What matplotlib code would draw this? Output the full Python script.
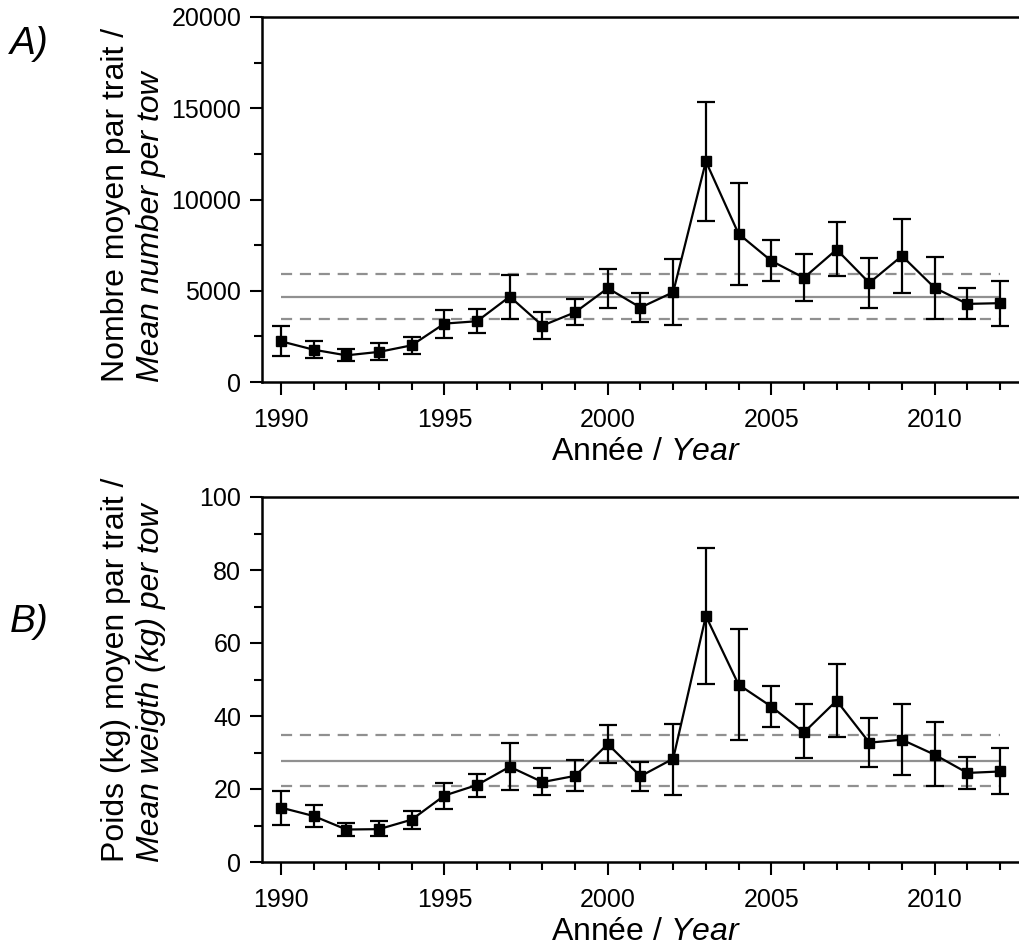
import matplotlib
matplotlib.use("Agg")
import matplotlib.pyplot as plt

years = list(range(1990, 2013))

# A) mean number per tow with upper / lower error limits
num_mean = [2230, 1770, 1460, 1650, 2010, 3200, 3330, 4680, 3090, 3820, 5140, 4080,
            4920, 12090, 8120, 6640, 5710, 7260, 5430, 6910, 5160, 4280, 4320]
num_hi = [3050, 2270, 1790, 2120, 2490, 3970, 3990, 5870, 3820, 4570, 6180, 4880,
          6750, 15330, 10920, 7770, 6990, 8780, 6800, 8930, 6840, 5140, 5540]
num_lo = [1450, 1340, 1150, 1190, 1540, 2410, 2710, 3440, 2380, 3110, 4080, 3270,
          3110, 8820, 5300, 5520, 4430, 5800, 4080, 4850, 3440, 3440, 3050]
num_ref = [4660, 5940, 3440]  # long-term mean, upper, lower

# B) mean weight (kg) per tow
wt_mean = [14.9, 12.6, 8.9, 9.0, 11.6, 18.2, 21.1, 26.1, 21.9, 23.6, 32.3, 23.5,
           28.3, 67.4, 48.6, 42.6, 35.5, 44.2, 32.7, 33.5, 29.4, 24.4, 24.8]
wt_hi = [19.5, 15.6, 10.8, 11.1, 14.1, 21.7, 24.2, 32.6, 25.7, 27.9, 37.4, 27.5,
         37.9, 86.1, 63.7, 48.2, 43.4, 54.2, 39.5, 43.2, 38.4, 28.8, 31.2]
wt_lo = [10.2, 9.5, 7.2, 7.0, 9.0, 14.4, 17.8, 19.8, 18.4, 19.5, 27.2, 19.5,
         18.4, 48.7, 33.5, 37.1, 28.5, 34.2, 26.0, 23.7, 20.9, 20.1, 18.6]
wt_ref = [27.7, 34.9, 20.7]

sans = ["Liberation Sans", "DejaVu Sans"]
plt.rcParams["font.family"] = sans
plt.rcParams["mathtext.fontset"] = "custom"
plt.rcParams["mathtext.it"] = "Liberation Sans:italic"
plt.rcParams["mathtext.rm"] = "Liberation Sans"

fig = plt.figure(figsize=(10.19, 9.48), dpi=100)
W, H = 1019, 948
axA = fig.add_axes([262 / W, 1 - 382 / H, 757 / W, 365 / H])
axB = fig.add_axes([262 / W, 1 - 862 / H, 757 / W, 365 / H])


def panel(ax, mean, hi, lo, ref, ymax, ymaj, ymin, line1, line2, letter, ly):
    err = [[m - l for m, l in zip(mean, lo)], [h - m for m, h in zip(mean, hi)]]
    ax.hlines(ref[0], years[0], years[-1], color="#909090", lw=1.6, zorder=1)
    ax.hlines(ref[1:], years[0], years[-1], color="#909090", lw=1.6,
              linestyles=(0, (5, 3.5)), zorder=1)
    ax.errorbar(years, mean, yerr=err, color="black", lw=1.6, elinewidth=1.6,
                capsize=6.5, capthick=1.6, marker="s", ms=6.5, zorder=3)
    ax.set_xlim(1989.42, 2012.58)
    ax.set_ylim(0, ymax)
    ax.set_xticks(range(1990, 2011, 5))
    ax.set_xticks(years, minor=True)
    ax.set_yticks(range(0, ymax + 1, ymaj))
    ax.set_yticks(range(0, ymax + 1, ymin), minor=True)
    ax.spines["right"].set_visible(False)
    for s in ("left", "bottom", "top"):
        ax.spines[s].set_linewidth(1.8)
    ax.tick_params(axis="x", which="major", length=9, width=1.5, pad=10,
                   labelsize=18)
    ax.tick_params(axis="x", which="minor", length=5.5, width=1.5)
    ax.tick_params(axis="y", which="major", length=9, width=1.5, pad=6,
                   labelsize=18)
    ax.tick_params(axis="y", which="minor", length=6, width=1.5)
    ax.set_xlabel("Année / $\\it{Year}$", fontsize=23)
    ax.xaxis.set_label_coords(0.507, -0.15)
    ax.text(-0.1825, 0.0, line1, transform=ax.transAxes, rotation=90,
            rotation_mode="anchor", ha="left", va="baseline", fontsize=23)
    ax.text(-0.1365, 0.0, line2, transform=ax.transAxes, rotation=90,
            rotation_mode="anchor", ha="left", va="baseline", fontsize=23,
            style="italic")
    fig.text(10 / W, ly, letter, fontsize=28, style="italic",
             va="center", ha="left")


panel(axA, num_mean, num_hi, num_lo, num_ref, 20000, 5000, 2500,
      "Nombre moyen par trait /", "Mean number per tow", "A)", 1 - 44 / H)
panel(axB, wt_mean, wt_hi, wt_lo, wt_ref, 100, 20, 10,
      "Poids (kg) moyen par trait /", "Mean weigth (kg) per tow", "B)", 1 - 622 / H)

fig.savefig("out.png", dpi=100)
